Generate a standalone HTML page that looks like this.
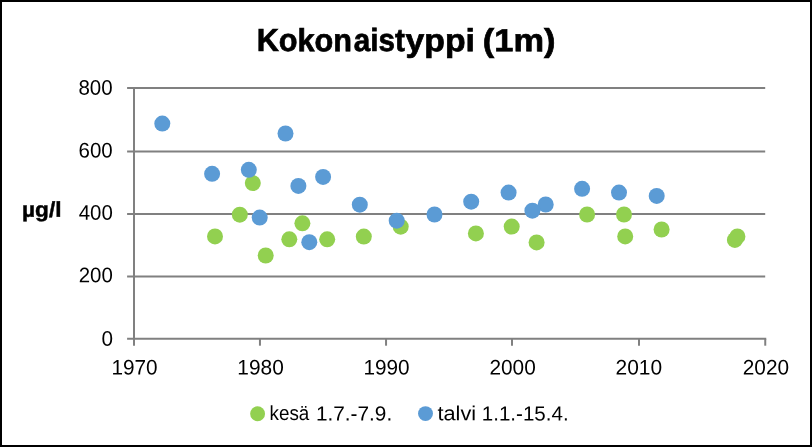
<!DOCTYPE html>
<html lang="fi">
<head>
<meta charset="utf-8">
<title>Kokonaistyppi (1m)</title>
<style>
html,body{margin:0;padding:0;background:#fff;}
body{width:812px;height:447px;overflow:hidden;position:relative;}
#frame{position:absolute;left:0;top:0;width:808px;height:443px;border:2px solid #000;background:#fff;}
svg{position:absolute;left:0;top:0;display:block;}
text{font-family:"Liberation Sans",sans-serif;fill:#000;white-space:pre;}
.b{font-weight:bold;stroke:#000;stroke-width:0.45px;}
.t{stroke-width:0.7px;}
</style>
</head>
<body>
<div id="frame"></div>
<svg width="812" height="447" viewBox="0 0 812 447">

<g stroke="#808080" stroke-width="2.0" fill="none">
<line x1="127.1" y1="88.00" x2="765.20" y2="88.00"/>
<line x1="127.1" y1="151.55" x2="765.20" y2="151.55"/>
<line x1="127.1" y1="214.00" x2="765.20" y2="214.00"/>
<line x1="127.1" y1="276.45" x2="765.20" y2="276.45"/>
<line x1="127.1" y1="338.85" x2="766.25" y2="338.85"/>
<line x1="134.00" y1="87.00" x2="134.00" y2="345.7"/>
<line x1="259.95" y1="338.85" x2="259.95" y2="345.7"/>
<line x1="386.05" y1="338.85" x2="386.05" y2="345.7"/>
<line x1="512.00" y1="338.85" x2="512.00" y2="345.7"/>
<line x1="639.00" y1="338.85" x2="639.00" y2="345.7"/>
<line x1="765.25" y1="338.85" x2="765.25" y2="345.7"/>
</g>
<g fill="#92D050">
<circle cx="252.8" cy="183.1" r="8.0"/>
<circle cx="239.8" cy="214.7" r="8.0"/>
<circle cx="215.0" cy="236.4" r="8.0"/>
<circle cx="302.4" cy="223.3" r="8.0"/>
<circle cx="289.3" cy="239.3" r="8.0"/>
<circle cx="327.2" cy="239.3" r="8.0"/>
<circle cx="265.7" cy="255.5" r="8.0"/>
<circle cx="363.8" cy="236.6" r="8.0"/>
<circle cx="400.7" cy="226.7" r="8.0"/>
<circle cx="475.9" cy="233.4" r="8.0"/>
<circle cx="511.7" cy="226.6" r="8.0"/>
<circle cx="536.6" cy="242.4" r="8.0"/>
<circle cx="587.1" cy="214.5" r="8.0"/>
<circle cx="624.0" cy="214.5" r="8.0"/>
<circle cx="625.2" cy="236.4" r="8.0"/>
<circle cx="661.6" cy="229.5" r="8.0"/>
<circle cx="734.9" cy="239.9" r="8.0"/>
<circle cx="737.4" cy="236.4" r="8.0"/>
</g>
<g fill="#5B9BD5">
<circle cx="162.3" cy="123.6" r="8.0"/>
<circle cx="285.5" cy="133.5" r="8.0"/>
<circle cx="212.1" cy="173.8" r="8.0"/>
<circle cx="248.8" cy="169.8" r="8.0"/>
<circle cx="298.4" cy="185.9" r="8.0"/>
<circle cx="323.1" cy="176.9" r="8.0"/>
<circle cx="259.7" cy="217.6" r="8.0"/>
<circle cx="309.3" cy="242.2" r="8.0"/>
<circle cx="359.8" cy="204.7" r="8.0"/>
<circle cx="396.7" cy="220.7" r="8.0"/>
<circle cx="434.5" cy="214.5" r="8.0"/>
<circle cx="471.2" cy="201.7" r="8.0"/>
<circle cx="508.6" cy="192.6" r="8.0"/>
<circle cx="545.7" cy="204.5" r="8.0"/>
<circle cx="532.4" cy="210.7" r="8.0"/>
<circle cx="582.1" cy="188.8" r="8.0"/>
<circle cx="619.0" cy="192.6" r="8.0"/>
<circle cx="656.7" cy="195.9" r="8.0"/>
</g>
<circle cx="257.6" cy="413.7" r="7.45" fill="#92D050"/>
<circle cx="425.5" cy="413.6" r="7.45" fill="#5B9BD5"/>
<text class="b t" y="51.20" font-size="32" transform="rotate(0.03 406.1 51.2)"><tspan x="256.69" textLength="95.40" lengthAdjust="spacingAndGlyphs">Kokon</tspan><tspan x="353.82" textLength="51.03" lengthAdjust="spacingAndGlyphs">aist</tspan><tspan x="405.61" textLength="69.29" lengthAdjust="spacingAndGlyphs">yppi</tspan> <tspan x="482.82" textLength="72.60" lengthAdjust="spacingAndGlyphs">(1m)</tspan></text>
<text class="b" y="216.80" font-size="21.3" transform="rotate(0.03 41.7 216.8)"><tspan x="22.10" textLength="39.41" lengthAdjust="spacingAndGlyphs">µg/l</tspan></text>
<text y="420.40" font-size="20.4" transform="rotate(0.03 330.6 420.4)"><tspan x="269.54" textLength="39.75" lengthAdjust="spacingAndGlyphs">kesä</tspan> <tspan x="315.92" textLength="76.31" lengthAdjust="spacingAndGlyphs">1.7.-7.9.</tspan></text>
<text y="420.40" font-size="20.4" transform="rotate(0.03 502.4 420.4)"><tspan x="437.44" textLength="38.64" lengthAdjust="spacingAndGlyphs">talvi</tspan> <tspan x="481.79" textLength="86.85" lengthAdjust="spacingAndGlyphs">1.1.-15.4.</tspan></text>
<text y="94.80" font-size="21.0" transform="rotate(0.03 95.6 94.8)"><tspan x="78.48" textLength="34.21" lengthAdjust="spacingAndGlyphs">800</tspan></text>
<text y="157.60" font-size="21.0" transform="rotate(0.03 95.8 157.6)"><tspan x="78.55" textLength="34.18" lengthAdjust="spacingAndGlyphs">600</tspan></text>
<text y="219.70" font-size="21.0" transform="rotate(0.03 95.5 219.7)"><tspan x="78.69" textLength="34.10" lengthAdjust="spacingAndGlyphs">400</tspan></text>
<text y="282.30" font-size="21.0" transform="rotate(0.03 95.8 282.3)"><tspan x="78.72" textLength="34.10" lengthAdjust="spacingAndGlyphs">200</tspan></text>
<text y="345.80" font-size="21.0" transform="rotate(0.03 107.2 345.8)"><tspan x="101.44" textLength="11.52" lengthAdjust="spacingAndGlyphs">0</tspan></text>
<text y="374.50" font-size="21.0" transform="rotate(0.03 134.9 374.5)"><tspan x="111.41" textLength="46.16" lengthAdjust="spacingAndGlyphs">1970</tspan></text>
<text y="374.50" font-size="21.0" transform="rotate(0.03 260.9 374.5)"><tspan x="237.35" textLength="46.38" lengthAdjust="spacingAndGlyphs">1980</tspan></text>
<text y="374.50" font-size="21.0" transform="rotate(0.03 387.0 374.5)"><tspan x="363.48" textLength="46.19" lengthAdjust="spacingAndGlyphs">1990</tspan></text>
<text y="374.50" font-size="21.0" transform="rotate(0.03 512.8 374.5)"><tspan x="489.42" textLength="46.32" lengthAdjust="spacingAndGlyphs">2000</tspan></text>
<text y="374.50" font-size="21.0" transform="rotate(0.03 638.8 374.5)"><tspan x="615.52" textLength="46.56" lengthAdjust="spacingAndGlyphs">2010</tspan></text>
<text y="374.50" font-size="21.0" transform="rotate(0.03 766.0 374.5)"><tspan x="742.75" textLength="46.29" lengthAdjust="spacingAndGlyphs">2020</tspan></text>
</svg>
</body>
</html>
